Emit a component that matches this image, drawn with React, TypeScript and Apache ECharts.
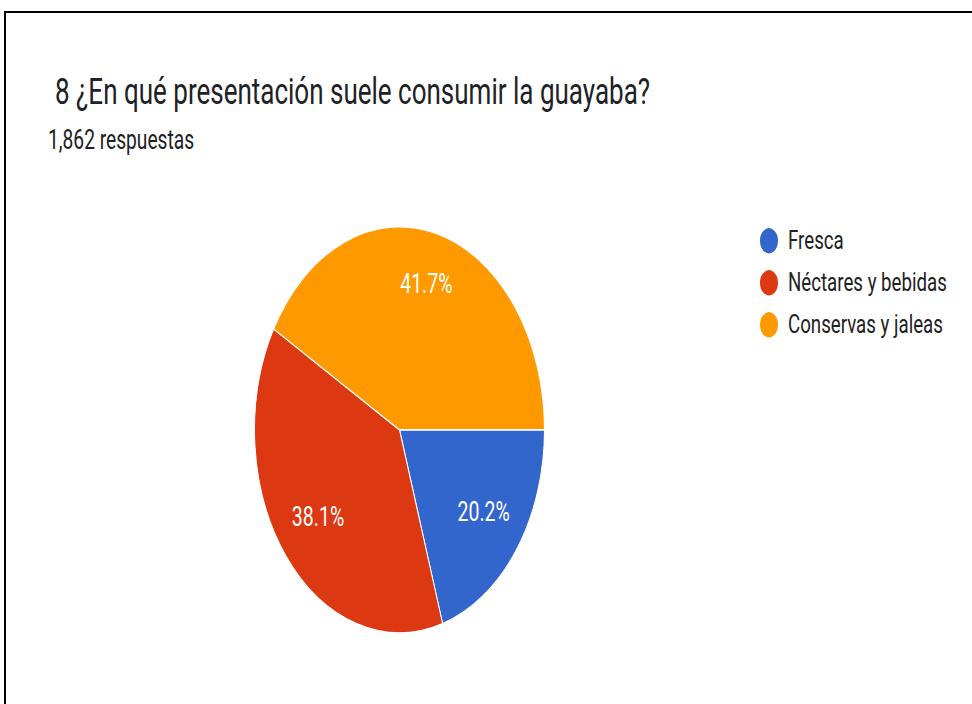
import React, { useEffect, useRef } from "react";
import * as echarts from "echarts";

const titleText = "8 ¿En qué presentación suele consumir la guayaba?";
const subtitleText = "1,862 respuestas";
const categories = ["Fresca", "Néctares y bebidas", "Conservas y jaleas"];
const responses = [376, 709, 777];
const colors = ["#3366cc", "#dc3912", "#ff9900"];

const STRETCH = 1.4;
const W = 972;
const H = 704 / STRETCH;

export default function App() {
  const ref = useRef<HTMLDivElement>(null);

  useEffect(() => {
    if (!ref.current) return;
    const chart = echarts.init(ref.current, undefined, { renderer: "svg" });
    const data = categories.map((name, i) => ({
      name,
      value: responses[i],
      itemStyle: { color: colors[i] },
    }));
    chart.setOption({
      animation: false,
      backgroundColor: "#ffffff",
      title: [
        {
          text: titleText,
          left: 55,
          top: 52.5,
          padding: 0,
          textStyle: {
            fontFamily: "Roboto",
            fontSize: 26,
            lineHeight: 26,
            fontWeight: "normal",
            color: "#202124",
          },
        },
        {
          text: subtitleText,
          left: 48,
          top: 90.5,
          padding: 0,
          textStyle: {
            fontFamily: "Roboto",
            fontSize: 19.2,
            lineHeight: 19.2,
            fontWeight: "normal",
            color: "#202124",
          },
        },
      ],
      legend: {
        orient: "vertical",
        left: 758,
        top: 161,
        padding: 0,
        icon: "circle",
        itemWidth: 20,
        itemHeight: 20,
        itemGap: 8,
        data: categories,
        textStyle: {
          fontFamily: "Roboto",
          fontSize: 18.7,
          color: "#222222",
          padding: [0, 0, 0, 4],
        },
      },
      series: [
        {
          type: "pie",
          center: [399.5, 307],
          radius: [0, 145],
          startAngle: 0,
          clockwise: true,
          percentPrecision: 1,
          silent: true,
          label: { show: false },
          labelLine: { show: false },
          itemStyle: { borderColor: "#ffffff", borderWidth: 1 },
          data,
        },
        {
          type: "pie",
          center: [399.5, 307],
          radius: [58, 145],
          startAngle: 0,
          clockwise: true,
          percentPrecision: 1,
          silent: true,
          itemStyle: { color: "rgba(0,0,0,0)", borderWidth: 0 },
          emphasis: { disabled: true },
          label: {
            show: true,
            position: "inside",
            formatter: "{d}%",
            color: "#ffffff",
            fontFamily: "Roboto",
            fontSize: 19.5,
            offset: [0, -3.5],
          },
          labelLine: { show: false },
          data: categories.map((name, i) => ({ name, value: responses[i] })),
        },
      ],
    });
    return () => chart.dispose();
  }, []);

  return (
    <div
      style={{
        position: "fixed",
        left: 0,
        top: 0,
        width: W,
        height: 704,
        overflow: "hidden",
        background: "#ffffff",
      }}
    >
      <div
        ref={ref}
        style={{
          position: "absolute",
          left: 0,
          top: 0,
          width: W,
          height: H,
          transform: `scaleY(${STRETCH})`,
          transformOrigin: "0 0",
        }}
      />
      <div
        style={{
          position: "absolute",
          left: 4,
          top: 11,
          width: W - 4,
          height: 704 - 11,
          borderTop: "2px solid #000",
          borderLeft: "2px solid #000",
          boxSizing: "border-box",
          pointerEvents: "none",
        }}
      />
    </div>
  );
}
